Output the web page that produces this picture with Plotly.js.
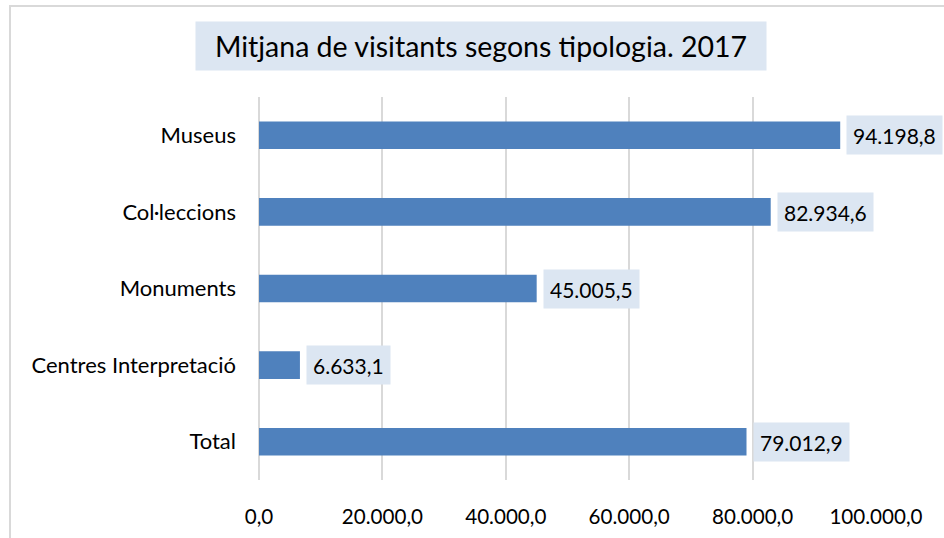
<!DOCTYPE html>
<html>
<head>
<meta charset="utf-8">
<script src="https://cdn.plot.ly/plotly-3.0.1.min.js"></script>
<style>
html,body{margin:0;padding:0;background:#fff;}
#wrap{position:relative;width:944px;height:538px;overflow:hidden;}
#frame{position:absolute;left:9px;top:5px;width:1000px;height:600px;border:2px solid #d9d9d9;box-sizing:border-box;pointer-events:none;}
#chart{position:absolute;left:0;top:0;width:944px;height:538px;}
</style>
</head>
<body>
<div id="wrap">
<div id="chart"></div>
<div id="frame"></div>
</div>
<script>
const chartTitle = "Mitjana de visitants segons tipologia. 2017";
const categories = ["Museus", "Col·leccions", "Monuments", "Centres Interpretació", "Total"];
const values = [94198.8, 82934.6, 45005.5, 6633.1, 79012.9];
const tickValues = [0, 20000, 40000, 60000, 80000, 100000];

function fmt(v) {
  const parts = v.toFixed(1).split(".");
  const intPart = parts[0].replace(/\B(?=(\d{3})+(?!\d))/g, ".");
  return intPart + "," + parts[1];
}

const FONT = "Lato, 'Open Sans', sans-serif";
const trace = {
  type: "bar",
  orientation: "h",
  y: categories,
  x: values,
  marker: {color: "#4F81BD", line: {width: 0}},
  width: 0.36,
  hoverinfo: "none"
};

const annotations = categories.map((c, i) => ({
  x: values[i], y: c, xref: "x", yref: "y",
  text: fmt(values[i]),
  showarrow: false,
  xanchor: "left", yanchor: "middle",
  xshift: 6,
  height: 26,
  bgcolor: "#DCE6F2",
  borderpad: 6,
  font: {family: FONT, size: 21, color: "#000"}
}));

annotations.push({
  xref: "paper", yref: "paper",
  x: (481 - 259) / 617, y: 1 + (97 - 46) / 383,
  xanchor: "center", yanchor: "middle",
  text: chartTitle,
  showarrow: false,
  width: 560, height: 38,
  bgcolor: "#DCE6F2",
  borderpad: 5,
  font: {family: FONT, size: 28.5, color: "#000"}
});

const layout = {
  width: 944, height: 538,
  margin: {l: 259, r: 68, t: 97, b: 58},
  paper_bgcolor: "#fff",
  plot_bgcolor: "#fff",
  separators: ",.",
  showlegend: false,
  bargap: 0.64,
  xaxis: {
    range: [0, 100000],
    tickvals: tickValues,
    ticktext: tickValues.map(fmt),
    showgrid: true, gridcolor: "#d9d9d9", gridwidth: 2,
    zeroline: true, zerolinecolor: "#d9d9d9", zerolinewidth: 2,
    showline: false, ticks: "",
    ticklabelstandoff: 22,
    tickfont: {family: FONT, size: 20.6, color: "#000"},
    fixedrange: true
  },
  yaxis: {
    autorange: "reversed",
    showgrid: false, zeroline: false, showline: false, ticks: "",
    ticklabelstandoff: 22,
    tickfont: {family: FONT, size: 22, color: "#000"},
    fixedrange: true
  },
  annotations: annotations
};

Plotly.newPlot("chart", [trace], layout, {displayModeBar: false, staticPlot: true});
</script>
</body>
</html>
